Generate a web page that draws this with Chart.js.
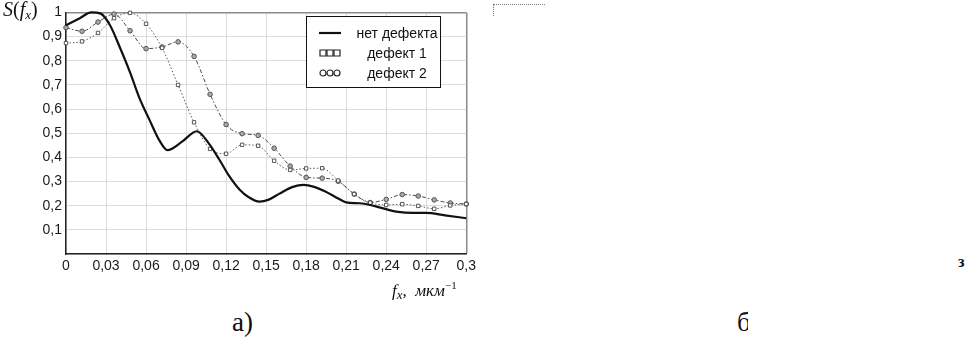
<!DOCTYPE html>
<html>
<head>
<meta charset="utf-8">
<script src="https://cdn.jsdelivr.net/npm/chart.js@4/dist/chart.umd.min.js"></script>
<style>
  html, body { margin:0; padding:0; background:#fff; width:970px; height:341px; overflow:hidden; position:relative; }
  #wrap { position:absolute; left:0; top:0; width:480px; height:280px; }
  .serif { font-family:'Liberation Serif','DejaVu Serif',serif; color:#111; position:absolute; white-space:nowrap; }
  #ylab { left:3px; top:-2px; font-size:20px; }
  #ylab sub, #xlab sub { font-size:13px; vertical-align:-3px; }
  #xlab { left:392px; top:279px; font-size:17px; font-style:italic; }
  #xlab sup { font-size:11px; vertical-align:7px; font-style:normal; }
  #capA { left:232px; top:307px; font-size:27px; }
  #capB { left:737px; top:307px; font-size:27px; width:11px; overflow:hidden; }
  #frag3 { left:958px; top:253px; font-size:16px; font-weight:bold; }
  #legend { position:absolute; left:306px; top:16px; width:133px; height:70px; border:1.5px solid #111; background:#fff; font-family:'Liberation Sans',Arial,sans-serif; font-size:14px; color:#111; }
  .row { position:absolute; left:0; width:133px; height:20px; }
  .sample { position:absolute; left:12px; top:0; width:24px; height:20px; }
  .txt { position:absolute; left:45px; width:90px; text-align:center; top:1px; line-height:18px; }
  #topfrag { position:absolute; left:493px; top:4px; width:52px; height:0; border-top:1px dotted #777; }
  #topfrag2 { position:absolute; left:493px; top:4px; width:0; height:12px; border-left:1px dotted #777; }
</style>
</head>
<body>
<div id="wrap"><canvas id="c" width="480" height="280"></canvas></div>
<div id="ylab" class="serif"><i>S</i>(<i>f</i><sub><i>x</i></sub>)</div>
<div id="xlab" class="serif">f<sub>x</sub>,&nbsp; мкм<sup>−1</sup></div>
<div id="capA" class="serif">а)</div>
<div id="capB" class="serif">б</div>
<div id="frag3" class="serif">з</div>
<div id="topfrag"></div><div id="topfrag2"></div>
<div id="legend"></div>
<script>
// ---- data ----
const freqNoDefect = [0, 0.010, 0.019, 0.026, 0.033, 0.040, 0.048, 0.055, 0.063, 0.070, 0.076, 0.087, 0.098, 0.107, 0.115, 0.122, 0.130, 0.137, 0.145, 0.152, 0.160, 0.170, 0.178, 0.186, 0.194, 0.204, 0.210, 0.220, 0.228, 0.237, 0.249, 0.260, 0.270, 0.284, 0.300];
const sNoDefect    = [0.947, 0.975, 1.0, 0.995, 0.947, 0.86, 0.752, 0.646, 0.55, 0.47, 0.43, 0.465, 0.508, 0.458, 0.39, 0.325, 0.267, 0.235, 0.217, 0.225, 0.25, 0.278, 0.286, 0.278, 0.26, 0.23, 0.214, 0.21, 0.203, 0.19, 0.174, 0.17, 0.17, 0.16, 0.148];
const freqDefect = [0, 0.012, 0.024, 0.036, 0.048, 0.060, 0.072, 0.084, 0.096, 0.108, 0.120, 0.132, 0.144, 0.156, 0.168, 0.180, 0.192, 0.204, 0.216, 0.228, 0.240, 0.252, 0.264, 0.276, 0.288, 0.300];
const sDefect1   = [0.873, 0.880, 0.915, 0.976, 0.998, 0.953, 0.853, 0.70, 0.545, 0.435, 0.415, 0.452, 0.448, 0.386, 0.348, 0.354, 0.355, 0.304, 0.248, 0.212, 0.203, 0.206, 0.199, 0.187, 0.201, 0.207];
const sDefect2   = [0.937, 0.922, 0.960, 0.993, 0.924, 0.850, 0.857, 0.878, 0.818, 0.661, 0.536, 0.498, 0.491, 0.438, 0.364, 0.317, 0.314, 0.301, 0.248, 0.213, 0.226, 0.246, 0.240, 0.224, 0.211, 0.207];
const seriesLabels = ['нет дефекта', 'дефект 1', 'дефект 2'];
const xTickValues = [0, 0.03, 0.06, 0.09, 0.12, 0.15, 0.18, 0.21, 0.24, 0.27, 0.3];
const yTickValues = [0, 0.1, 0.2, 0.3, 0.4, 0.5, 0.6, 0.7, 0.8, 0.9, 1];

const toPts = (xs, ys) => xs.map((x, i) => ({ x: x, y: ys[i] }));
const fmt = v => { const n = Number(v.toFixed(2)); return String(n).replace('.', ','); };

const chart = new Chart(document.getElementById('c'), {
  type: 'line',
  data: {
    datasets: [
      { label: seriesLabels[0], data: toPts(freqNoDefect, sNoDefect), borderColor: '#111', borderWidth: 2.2,
        pointRadius: 0, cubicInterpolationMode: 'monotone', clip: 4 },
      { label: seriesLabels[1], data: toPts(freqDefect, sDefect1), borderColor: '#5a5a5a', borderWidth: 1,
        borderDash: [1.5, 2], pointStyle: 'rect', pointRadius: 2.4, pointBorderWidth: 1,
        pointBorderColor: '#555', pointBackgroundColor: '#fff', cubicInterpolationMode: 'monotone', clip: 5 },
      { label: seriesLabels[2], data: toPts(freqDefect, sDefect2), borderColor: '#4a4a4a', borderWidth: 1,
        borderDash: [4, 2, 1.5, 2], pointStyle: 'circle', pointRadius: 2.3, pointBorderWidth: 1,
        pointBorderColor: '#555', pointBackgroundColor: '#aaa', cubicInterpolationMode: 'monotone', clip: 5 }
    ]
  },
  options: {
    responsive: false, animation: false, devicePixelRatio: 1,
    layout: { padding: { left: 0, right: 12, top: 5, bottom: 0 } },
    plugins: { legend: { display: false }, tooltip: { enabled: false } },
    scales: {
      x: {
        type: 'linear', min: 0, max: 0.3,
        afterBuildTicks: s => { s.ticks = xTickValues.map(v => ({ value: v })); },
        afterFit: s => { s.height = 26; },
        ticks: { callback: v => fmt(v), color: '#1a1a1a', padding: 4, maxRotation: 0, autoSkip: false,
                 font: { family: "'Liberation Sans', Arial, sans-serif", size: 14 } },
        grid: { color: ctx => (ctx.tick && ctx.tick.value >= 0.3 ? '#8a8a8a' : '#dcdcdc'), lineWidth: ctx => (ctx.tick && ctx.tick.value >= 0.3 ? 1.5 : 1), drawTicks: false },
        border: { color: '#222', width: 1.5 }
      },
      y: {
        type: 'linear', min: 0, max: 1,
        afterBuildTicks: s => { s.ticks = yTickValues.map(v => ({ value: v })); },
        afterFit: s => { s.width = 66; },
        ticks: { callback: v => (v === 0 ? '' : fmt(v)), color: '#1a1a1a', padding: 4, autoSkip: false,
                 font: { family: "'Liberation Sans', Arial, sans-serif", size: 14 } },
        grid: { color: ctx => (ctx.tick && ctx.tick.value >= 1 ? '#8a8a8a' : '#dcdcdc'), lineWidth: ctx => (ctx.tick && ctx.tick.value >= 1 ? 1.5 : 1), drawTicks: false },
        border: { color: '#222', width: 1.5 }
      }
    }
  }
});

// HTML legend built from the datasets
const leg = document.getElementById('legend');
chart.data.datasets.forEach((ds, i) => {
  const row = document.createElement('div');
  row.className = 'row';
  row.style.top = (6 + i * 20) + 'px';
  const smp = document.createElement('canvas');
  smp.className = 'sample'; smp.width = 24; smp.height = 20;
  const g = smp.getContext('2d');
  if (i === 0) {
    g.strokeStyle = ds.borderColor; g.lineWidth = 2.2;
    g.beginPath(); g.moveTo(0, 10); g.lineTo(22, 10); g.stroke();
  } else {
    g.strokeStyle = '#222'; g.lineWidth = 1.2;
    for (let k = 0; k < 3; k++) {
      const cx = 4 + k * 7;
      g.beginPath();
      if (i === 1) g.rect(cx - 3, 7, 6, 6); else g.arc(cx, 10, 3, 0, Math.PI * 2);
      g.stroke();
    }
  }
  const t = document.createElement('div');
  t.className = 'txt'; t.textContent = ds.label;
  row.appendChild(smp); row.appendChild(t); leg.appendChild(row);
});
</script>
</body>
</html>
